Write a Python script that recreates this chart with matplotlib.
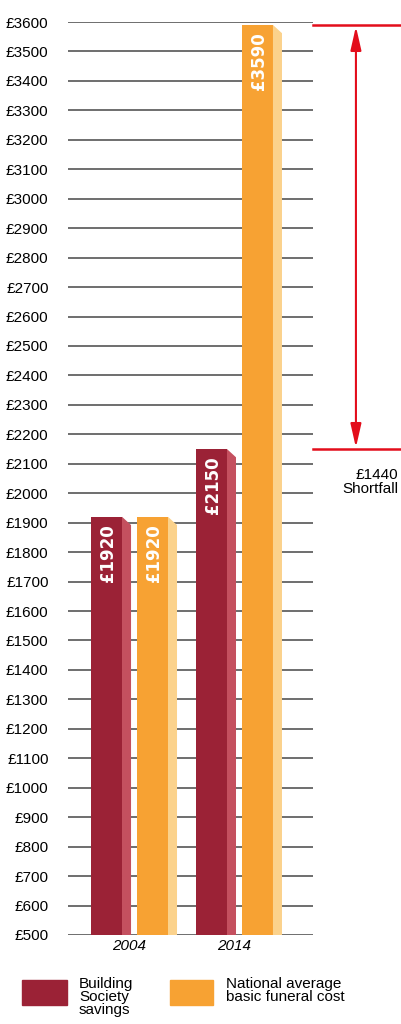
import numpy as np
import matplotlib
matplotlib.use('Agg')
from matplotlib import pyplot as plt
from matplotlib.patches import Rectangle

years = ['2004', '2014']
savings = [1920, 2150]
funeral = [1920, 3590]
yticks = list(range(500, 3700, 100))

c_sav, c_sav_side = '#9b2236', '#c4505f'
c_fun, c_fun_side = '#f7a233', '#fbd28c'
red = '#e30d1b'

fig = plt.figure(figsize=(4.01, 10.24), dpi=100)
ax = fig.add_axes([68/401, 1-935/1024, 245/401, 913/1024])

x = np.arange(len(years))
w = 0.295
side = 0.086
off = 0.219
drop = 28

def draw(xc, vals, c, cs):
    ax.bar(xc, [v - 500 for v in vals], width=w, bottom=500, color=c, zorder=3)
    for xi, v in zip(xc, vals):
        x0 = xi + w/2
        ax.fill([x0, x0 + side, x0 + side, x0], [500, 500, v - drop, v],
                color=cs, zorder=3, lw=0)
        ax.text(xi + 0.01, v - 25, '£%d' % v, rotation=90, ha='center', va='top',
                color='white', fontsize=12, fontweight='bold', zorder=4)

draw(x - off, savings, c_sav, c_sav_side)
draw(x + off, funeral, c_fun, c_fun_side)

ax.set_xlim(-0.586, 1.748)
ax.set_ylim(500, 3600)
ax.set_yticks(yticks)
ax.set_yticklabels(['£%d' % t for t in yticks], fontsize=11, family='Liberation Sans')
ax.set_xticks(x)
ax.set_xticklabels(years, fontsize=11, style='italic', family='Liberation Sans')
ax.tick_params(axis='y', length=0, pad=14)
ax.tick_params(axis='x', length=0, pad=3)
ax.grid(axis='y', color='#555555', lw=1.2)
ax.set_axisbelow(True)
for s in ax.spines.values():
    s.set_visible(False)

# shortfall annotation
top = funeral[1]
low = savings[1]
ax.plot([1.748, 2.6], [top, top], color=red, lw=1.8, clip_on=False)
ax.plot([1.748, 2.6], [low, low], color=red, lw=1.8, clip_on=False)
ax.annotate('', xy=(2.157, top - 5), xytext=(2.157, low + 5),
            arrowprops=dict(arrowstyle='<|-|>,head_length=1.1,head_width=0.25',
                            color=red, lw=1.5, mutation_scale=13,
                            shrinkA=0, shrinkB=0),
            annotation_clip=False)
fig.text(398/401, 1-468/1024, '£%d\nShortfall' % (top - low), ha='right', va='top',
         fontsize=11, family='Liberation Sans', linespacing=1.0)

# legend
fig.add_artist(Rectangle((22/401, 1-1005/1024), 45/401, 25/1024,
                         transform=fig.transFigure, color=c_sav))
fig.text(79/401, 1-977/1024, 'Building\nSociety\nsavings', ha='left', va='top',
         fontsize=11, family='Liberation Sans', linespacing=0.9)
fig.add_artist(Rectangle((170/401, 1-1005/1024), 43/401, 25/1024,
                         transform=fig.transFigure, color=c_fun))
fig.text(226/401, 1-977/1024, 'National average\nbasic funeral cost', ha='left',
         va='top', fontsize=11, family='Liberation Sans', linespacing=0.9)

plt.savefig('out.png', dpi=100)
